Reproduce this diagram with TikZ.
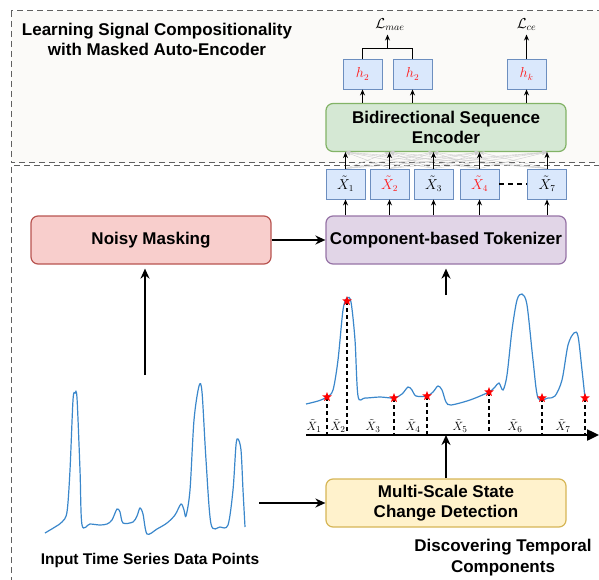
\documentclass[tikz,border=0pt]{standalone}
\usepackage{fontspec}
\setmainfont{Liberation Sans}
\usetikzlibrary{shapes.geometric}
\usetikzlibrary{arrows.meta}
\usetikzlibrary{calc}

\definecolor{topbg}{HTML}{FBFAF8}
\definecolor{frameline}{HTML}{606060}
\definecolor{bluefill}{HTML}{DAE8FC}
\definecolor{blueline}{HTML}{6C8EBF}
\definecolor{greenfill}{HTML}{D5E8D4}
\definecolor{greenline}{HTML}{82B366}
\definecolor{redfill}{HTML}{F8CECC}
\definecolor{redline}{HTML}{B85450}
\definecolor{purplefill}{HTML}{E1D5E7}
\definecolor{purpleline}{HTML}{9673A6}
\definecolor{yellowfill}{HTML}{FFF2CC}
\definecolor{yellowline}{HTML}{D6B656}
\definecolor{signal}{HTML}{3A87CB}
\definecolor{maskred}{HTML}{FF1A1A}

\begin{document}
\begin{tikzpicture}[x=1pt, y=-1pt,
    lbl/.style={font=\bfseries\fontsize{17}{20}\selectfont, align=center},
    block/.style={lbl, rounded corners=7pt, line width=1.2pt, minimum width=240pt, minimum height=48pt, inner sep=0pt},
    tok/.style={draw=blueline, fill=bluefill, line width=0.9pt, minimum width=39pt, minimum height=30pt, inner sep=0pt, font=\fontsize{13.5}{15}\selectfont},
    frame/.style={draw=frameline, line width=1pt, dash pattern=on 6pt off 4pt},
    small/.style={-{Stealth[length=6pt,width=5pt]}, line width=0.9pt},
    fan/.style={-{Stealth[length=5pt,width=4pt]}, line width=0.4pt, draw=black!20},
    big/.style={-{Stealth[length=10pt,width=9pt]}, line width=2.3pt},
    cut/.style={dash pattern=on 4pt off 3pt, line width=1.8pt},
    redstar/.style={star, star points=5, star point ratio=2.3, fill=red, inner sep=0pt, minimum size=10pt},
    seg/.style={font=\fontsize{12.5}{15}\selectfont, inner sep=0pt}
]
\useasboundingbox (0,0) rectangle (599,580);

\draw[frame, fill=topbg] (11,11) rectangle (620,163);
\draw[frame] (620,166) -- (11,166) -- (11,600);

\node[lbl] (title) at (157,39.5) {Learning Signal Compositionality\\with Masked Auto-Encoder};

\node[block, draw=greenline, fill=greenfill] (enc) at (446,127.5) {Bidirectional Sequence\\Encoder};
\node[block, draw=purpleline, fill=purplefill] (tkz) at (446,240) {Component-based Tokenizer};
\node[block, draw=redline, fill=redfill] (nm) at (151,240) {Noisy Masking};
\node[block, draw=yellowline, fill=yellowfill] (mcd) at (446,503) {Multi-Scale State\\Change Detection};

\node[tok] (ha) at (362.5,74) {$\color{maskred}h_2$};
\node[tok] (hb) at (412.5,74) {$\color{maskred}h_2$};
\node[tok] (hk) at (526.5,74) {$\color{maskred}h_k$};
\node[font=\fontsize{14}{16}\selectfont] (lmae) at (390,25) {$\mathcal{L}_{mae}$};
\node[font=\fontsize{14}{16}\selectfont] (lce) at (526.5,25) {$\mathcal{L}_{ce}$};

\node[tok] (x1) at (345.5,184) {$\tilde{X}_1$};
\node[tok] (x2) at (389.5,184) {$\color{maskred}\tilde{X}_2$};
\node[tok] (x3) at (433.5,184) {$\tilde{X}_3$};
\node[tok] (x4) at (479.5,184) {$\color{maskred}\tilde{X}_4$};
\node[tok] (x7) at (547,184) {$\tilde{X}_7$};
\draw[line width=1.5pt, dash pattern=on 5pt off 4pt] (x4.east) -- (x7.west);

\foreach \i in {1,2,3,4,7}
  \foreach \j in {1,2,3,4,7}
    \draw[fan] (x\i.north) -- (x\j.north |- enc.south);
\foreach \i in {1,2,3,4,7} {
  \draw[small] (x\i.north) -- (x\i.north |- enc.south);
  \draw[small] (x\i.north |- tkz.north) -- (x\i.south);
}

\foreach \h in {ha,hb,hk}
  \draw[small] (\h.south |- enc.north) -- (\h.south);
\coordinate (br) at ($(ha.north)!0.5!(hb.north)+(0,-10)$);
\draw[line width=0.9pt] (ha.north) -- (ha.north |- br) -- (hb.north |- br) -- (hb.north);
\draw[small] (br) -- (br |- lmae.south);
\draw[small] (hk.north) -- (lce.south);

\draw[big] (nm.east) -- (tkz.west);
\coordinate (up1) at (145,375);
\draw[big, shorten >=4pt] (up1) -- (up1 |- nm.south);
\coordinate (up2) at (446,295);
\draw[big, shorten >=4pt] (up2) -- (tkz.south);

\draw[signal, line width=1.2pt] plot[smooth, tension=0.5] coordinates {
  (45,533) (55,527) (62,522) (67,512) (70,470) (73,400) (75,393) (77,398) (80,470) (82,525)
  (90,524) (100,525) (107,524) (112,520) (117,509) (120,512) (123,523) (133,522) (137,516)
  (140,508) (143,514) (147,534) (157,529) (167,523) (175,515) (181,504) (184,510) (186,516)
  (190,490) (194,420) (199,386) (202,392) (206,460) (211,524) (220,527) (228,525) (233,490)
  (236,445) (238,439) (241,450) (243,490) (245,527)};
\node[font=\bfseries\fontsize{15.5}{20}\selectfont] (inp) at (150,560) {Input Time Series Data Points};
\coordinate (sig) at (259,503);
\draw[big] (sig) -- (mcd.west);

\node[lbl, font=\bfseries\fontsize{17}{21}\selectfont] (disc) at (503,558) {Discovering Temporal\\Components};

\coordinate (a0) at (306,435);
\coordinate (a1) at (599,435);
\draw[signal, line width=1.2pt] plot[smooth, tension=0.5] coordinates {
  (306,404) (318,401) (327,397) (333,390) (338,360) (343,310) (347,298) (351,302) (355,340)
  (358,396) (365,398) (380,397) (394,398) (402,394) (408,387) (412,390) (416,396) (427,396)
  (433,392) (438,386) (442,390) (446,402) (451,405) (470,400) (489,392) (495,387) (499,383)
  (503,390) (507,375) (512,330) (517,300) (522,294) (527,305) (533,360) (538,398) (548,398)
  (555,396) (562,380) (568,345) (574,333) (578,336) (582,370) (585,398)};
\foreach \n/\x/\y in {1/327/397, 2/347/301, 3/394/398, 4/427/396, 5/489/392, 6/542/398, 7/585/398} {
  \draw[cut] (\x,\y) -- (\x,435);
  \node[redstar] (s\n) at (\x,\y) {};
}
\foreach \n/\x in {1/314, 2/338, 3/373, 4/413, 5/460, 6/515, 7/563}
  \node[seg] (c\n) at (\x,426) {$\tilde{X}_\n$};
\draw[-{Triangle[length=12pt,width=11pt]}, line width=2.4pt] (a0) -- (a1);
\draw[big] (mcd.north) -- (mcd.north |- a0);
\end{tikzpicture}
\end{document}
